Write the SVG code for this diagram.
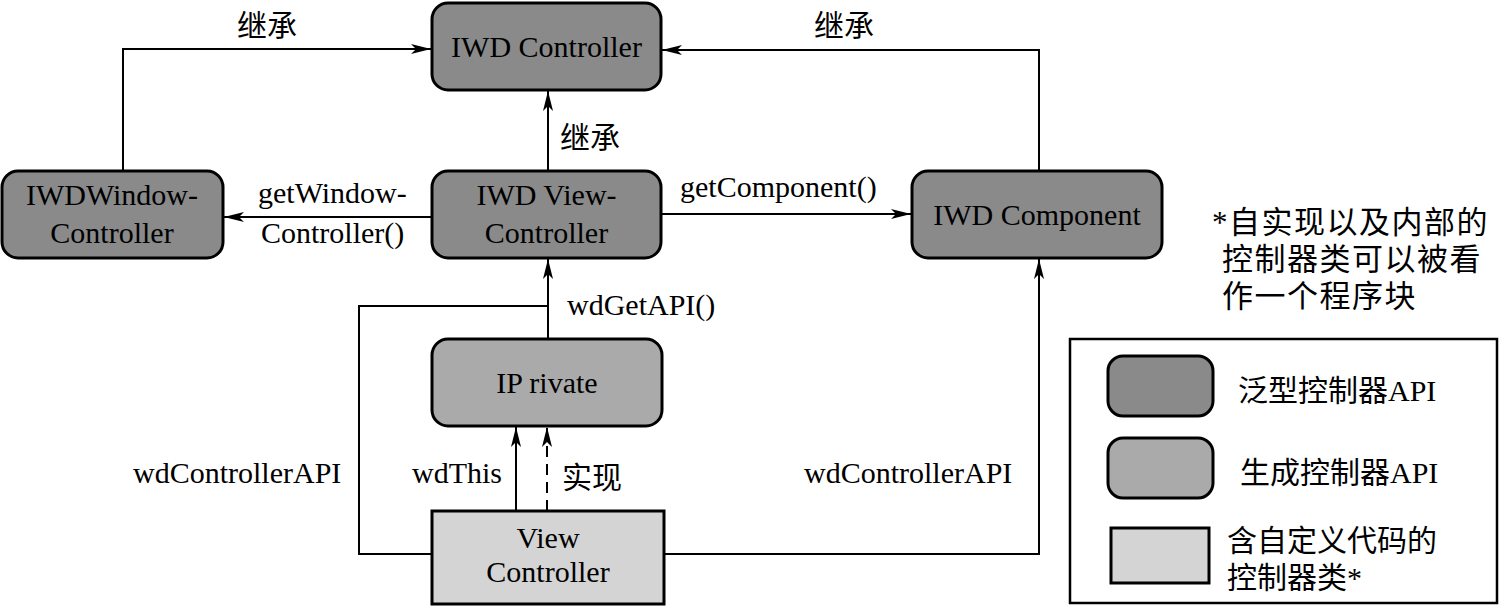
<svg xmlns="http://www.w3.org/2000/svg" width="1506" height="607" viewBox="0 0 1506 607">
<style>
.dark{fill:#8a8a8a;stroke:#000;stroke-width:3}
.mid{fill:#aaaaaa;stroke:#000;stroke-width:3}
.light{fill:#d4d4d4;stroke:#000;stroke-width:3}
.t{font-family:"Liberation Serif","Noto Sans CJK SC",serif;font-size:30px;fill:#000}
.c{text-anchor:middle}
.ln{fill:none;stroke:#000;stroke-width:2}
.dash{stroke-dasharray:11 7}
.note{font-size:31px;letter-spacing:1.5px}
</style>
<defs>
<marker id="ah" viewBox="0 0 20 10" refX="20" refY="5" markerWidth="20" markerHeight="10" markerUnits="userSpaceOnUse" orient="auto">
<path d="M0,0 L20,5 L0,10 L5,5 Z" fill="#000"/>
</marker>
</defs>
<rect x="0" y="0" width="1506" height="607" fill="#fff"/>
<g id="connectors">
<polyline class="ln" points="123,170 123,49 431,49" marker-end="url(#ah)"/>
<polyline class="ln" points="1039,170 1039,50 662,50" marker-end="url(#ah)"/>
<line class="ln" x1="548" y1="170" x2="548" y2="91" marker-end="url(#ah)"/>
<line class="ln" x1="431" y1="217" x2="224" y2="217" marker-end="url(#ah)"/>
<line class="ln" x1="662" y1="214" x2="911" y2="214" marker-end="url(#ah)"/>
<line class="ln" x1="548" y1="338" x2="548" y2="259" marker-end="url(#ah)"/>
<polyline class="ln" points="432,554 359,554 359,306 548,306"/>
<polyline class="ln" points="664,554 1039,554 1039,259" marker-end="url(#ah)"/>
<line class="ln" x1="516" y1="511" x2="516" y2="427" marker-end="url(#ah)"/>
<line class="ln dash" x1="547" y1="511" x2="547" y2="427" marker-end="url(#ah)"/>
<text class="t" x="237" y="36">继承</text>
<text class="t" x="814" y="36">继承</text>
<text class="t" x="560" y="148">继承</text>
<text class="t" x="258" y="203">getWindow-</text>
<text class="t" x="261" y="243">Controller()</text>
<text class="t" x="680" y="197">getComponent()</text>
<text class="t" x="567" y="315">wdGetAPI()</text>
<text class="t" x="412" y="483">wdThis</text>
<text class="t" x="562" y="488">实现</text>
<text class="t" x="133" y="483">wdControllerAPI</text>
<text class="t" x="804" y="483">wdControllerAPI</text>
</g>
<g id="iwd-controller">
<rect class="dark" x="432" y="3" width="229" height="87" rx="16"/>
<text class="t c" x="546.5" y="57">IWD Controller</text>
</g>
<g id="iwd-window-controller">
<rect class="dark" x="2" y="171" width="221" height="87" rx="16"/>
<text class="t c" x="112" y="205">IWDWindow-</text>
<text class="t c" x="112" y="243">Controller</text>
</g>
<g id="iwd-view-controller">
<rect class="dark" x="432" y="171" width="229" height="87" rx="16"/>
<text class="t c" x="546.5" y="205">IWD View-</text>
<text class="t c" x="546.5" y="243">Controller</text>
</g>
<g id="iwd-component">
<rect class="dark" x="912" y="171" width="250" height="87" rx="16"/>
<text class="t c" x="1037" y="225">IWD Component</text>
</g>
<g id="iprivate">
<rect class="mid" x="432" y="339" width="230" height="87" rx="16"/>
<text class="t c" x="547" y="393">IP rivate</text>
</g>
<g id="view-controller">
<rect class="light" x="432" y="511" width="232" height="93"/>
<text class="t c" x="548" y="548">View</text>
<text class="t c" x="548" y="582">Controller</text>
</g>
<g id="note">
<text class="t note" x="1212" y="233">*自实现以及内部的</text>
<text class="t note" x="1222" y="270">控制器类可以被看</text>
<text class="t note" x="1222" y="307">作一个程序块</text>
</g>
<g id="legend">
<rect x="1070" y="339" width="427" height="264" fill="#fff" stroke="#000" stroke-width="2.5"/>
<rect class="dark" x="1108" y="356" width="105" height="60" rx="15"/>
<text class="t" x="1238" y="401">泛型控制器API</text>
<rect class="mid" x="1108" y="438" width="105" height="60" rx="15"/>
<text class="t" x="1240" y="483">生成控制器API</text>
<rect class="light" x="1111" y="528" width="98" height="55"/>
<text class="t" x="1227" y="551">含自定义代码的</text>
<text class="t" x="1227" y="588">控制器类*</text>
</g>
</svg>
